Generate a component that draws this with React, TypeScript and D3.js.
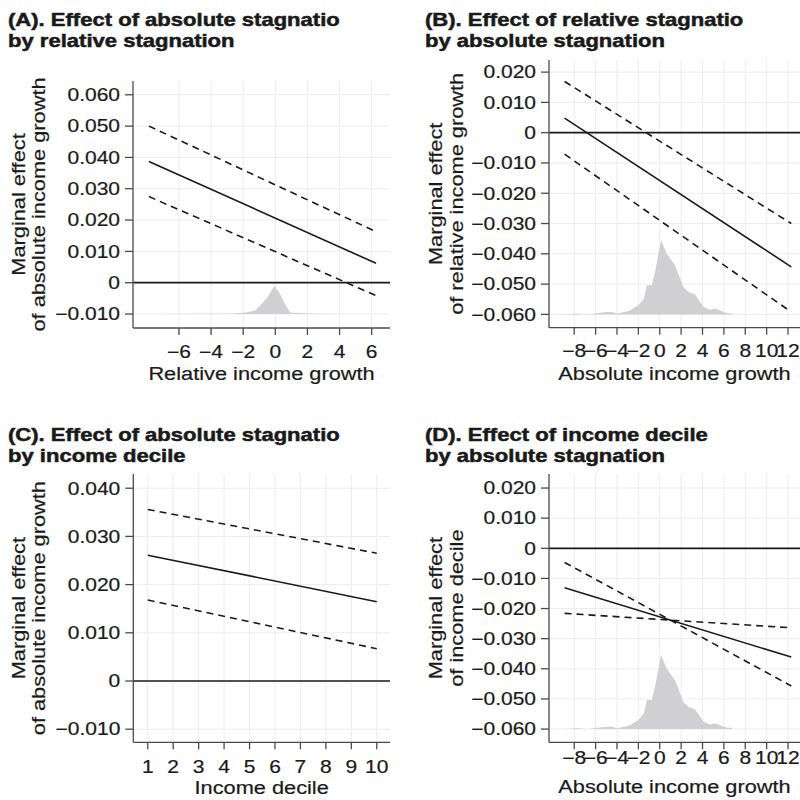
import { useRef, useEffect } from 'react';
import * as d3 from 'd3';

const FONT = "'Liberation Sans', Arial, Helvetica, sans-serif";
const W = 800;
const H = 800;

// (A) effect of absolute stagnation by relative income growth
const aX = [-7.87, 6.27];
const aFit = [0.0387, 0.0062];
const aUpper = [0.05, 0.0163];
const aLower = [0.0275, -0.0041];
const aHistX = [-7.9, -5, -2.83, -1.8, -1.27, -0.85, -0.5, -0.06, 0.3, 0.6, 0.92, 1.96, 2.8, 4.5];
const aHistH = [0, 0.00005, 0.0001, 0.0005, 0.0011, 0.0032, 0.0053, 0.009, 0.0064, 0.0032, 0.0005, 0.0002, 0.0001, 0];
const aXTicks = [-6, -4, -2, 0, 2, 4, 6];
const aYTicks = [-0.01, 0, 0.01, 0.02, 0.03, 0.04, 0.05, 0.06];

// (B) effect of relative stagnation by absolute income growth
const bX = [-8.9, 12.3];
const bFit = [0.0048, -0.0443];
const bUpper = [0.0169, -0.03];
const bLower = [-0.0071, -0.0592];

// absolute income growth distribution (B and D)
const absHistX = [-9, -7.8, -6.8, -5, -4.5, -4, -2.9, -2, -1.5, -1.2, -0.75, -0.44, 0.12, 0.65, 1.43, 2.2, 2.7, 3.3, 4.1, 4.7, 5.2, 6, 6.3, 6.7, 6.8];
const absHistH = [0, 0.0003, 0, 0.0008, 0.0008, 0.0003, 0.0011, 0.003, 0.0052, 0.0096, 0.0096, 0.014, 0.0245, 0.02, 0.0162, 0.009, 0.0074, 0.0066, 0.0024, 0.0015, 0.0019, 0.0008, 0.0004, 0.0004, 0];
const absXTicks = [-8, -6, -4, -2, 0, 2, 4, 6, 8, 10, 12];
const negYTicks = [-0.06, -0.05, -0.04, -0.03, -0.02, -0.01, 0, 0.01, 0.02];

// (C) effect of absolute stagnation by income decile
const cX = [1, 10];
const cFit = [0.0261, 0.01645];
const cUpper = [0.0356, 0.0265];
const cLower = [0.0168, 0.0067];
const cXTicks = [1, 2, 3, 4, 5, 6, 7, 8, 9, 10];
const cYTicks = [-0.01, 0, 0.01, 0.02, 0.03, 0.04];

// (D) effect of income decile by absolute stagnation
const dX = [-8.9, 12.3];
const dFit = [-0.0131, -0.0361];
const dBand1 = [-0.0047, -0.0457];
const dBand2 = [-0.0216, -0.0264];

type Panel = {
  title: [string, string];
  yTitle: [string, string];
  xTitle: string;
  xs: number[];
  fit: number[];
  bands: number[][];
  histX?: number[];
  histH?: number[];
  xTicks: number[];
  yTicks: number[];
  xDomain: [number, number];
  yDomain: [number, number];
  box: { left: number; right: number; top: number; bottom: number };
  titleX: number;
  titleY: number;
  yTitleX: [number, number];
  tickY: number;
  xTitleY: number;
};

const panels: Panel[] = [
  {
    title: ['(A). Effect of absolute stagnatio', 'by relative stagnation'],
    yTitle: ['Marginal effect', 'of absolute income growth'],
    xTitle: 'Relative income growth',
    xs: aX,
    fit: aFit,
    bands: [aUpper, aLower],
    histX: aHistX,
    histH: aHistH,
    xTicks: aXTicks,
    yTicks: aYTicks,
    xDomain: [-8.86, 7.14],
    yDomain: [-0.01446, 0.0644],
    box: { left: 133, right: 390, top: 81, bottom: 328 },
    titleX: 8,
    titleY: 26,
    yTitleX: [25, 45],
    tickY: 358,
    xTitleY: 380,
  },
  {
    title: ['(B). Effect of relative stagnatio', 'by absolute stagnation'],
    yTitle: ['Marginal effect', 'of relative income growth'],
    xTitle: 'Absolute income growth',
    xs: bX,
    fit: bFit,
    bands: [bUpper, bLower],
    histX: absHistX,
    histH: absHistH,
    xTicks: absXTicks,
    yTicks: negYTicks,
    xDomain: [-10.36, 13.12],
    yDomain: [-0.0644, 0.024],
    box: { left: 549, right: 800, top: 60, bottom: 327.7 },
    titleX: 425,
    titleY: 26,
    yTitleX: [441.5, 463],
    tickY: 357,
    xTitleY: 380,
  },
  {
    title: ['(C). Effect of absolute stagnatio', 'by income decile'],
    yTitle: ['Marginal effect', 'of absolute income growth'],
    xTitle: 'Income decile',
    xs: cX,
    fit: cFit,
    bands: [cUpper, cLower],
    xTicks: cXTicks,
    yTicks: cYTicks,
    xDomain: [0.432, 10.52],
    yDomain: [-0.01272, 0.04295],
    box: { left: 133.3, right: 390, top: 474, bottom: 742.3 },
    titleX: 8,
    titleY: 441,
    yTitleX: [25, 45],
    tickY: 772.5,
    xTitleY: 794,
  },
  {
    title: ['(D). Effect of income decile', 'by absolute stagnation'],
    yTitle: ['Marginal effect', 'of income decile'],
    xTitle: 'Absolute income growth',
    xs: dX,
    fit: dFit,
    bands: [dBand1, dBand2],
    histX: absHistX,
    histH: absHistH,
    xTicks: absXTicks,
    yTicks: negYTicks,
    xDomain: [-10.36, 13.12],
    yDomain: [-0.0644, 0.02466],
    box: { left: 549, right: 800, top: 474, bottom: 742.3 },
    titleX: 425,
    titleY: 441,
    yTitleX: [441.5, 463],
    tickY: 763.5,
    xTitleY: 793,
  },
];

type Sel = d3.Selection<SVGGElement, unknown, null, undefined>;

function stretchText(
  parent: Sel,
  x: number,
  y: number,
  str: string,
  opts: { size: number; sx: number; anchor?: string; weight?: number; rotate?: boolean; halo?: number },
) {
  parent
    .append('text')
    .attr('transform', `translate(${x},${y})${opts.rotate ? ' rotate(-90)' : ''} scale(${opts.sx},1)`)
    .attr('text-anchor', opts.anchor ?? 'start')
    .attr('font-family', FONT)
    .attr('font-size', opts.size)
    .attr('font-weight', opts.weight ?? 400)
    .attr('fill', '#1a1a1a')
    .attr('stroke', '#1a1a1a')
    .attr('stroke-width', opts.halo ?? 0.2)
    .text(str);
}

const fmtY = (v: number) => (Math.abs(v) < 1e-9 ? '0' : d3.format('.3f')(v));
const fmtX = (v: number) => d3.format('d')(v);

function drawPanel(g: Sel, p: Panel) {
  const { box } = p;
  const x = d3.scaleLinear().domain(p.xDomain).range([box.left, box.right]);
  const y = d3.scaleLinear().domain(p.yDomain).range([box.bottom, box.top]);

  // grid
  p.xTicks.forEach((t) => {
    g.append('line')
      .attr('x1', x(t))
      .attr('x2', x(t))
      .attr('y1', box.top)
      .attr('y2', box.bottom)
      .attr('stroke', '#ececec')
      .attr('stroke-width', 1);
  });
  p.yTicks.forEach((t) => {
    g.append('line')
      .attr('x1', box.left)
      .attr('x2', box.right)
      .attr('y1', y(t))
      .attr('y2', y(t))
      .attr('stroke', '#ececec')
      .attr('stroke-width', 1);
  });

  // distribution of the moderator
  if (p.histX && p.histH) {
    const base = p.yTicks[0];
    const pts = p.histX.map((v, i) => [v, p.histH![i]] as [number, number]);
    const area = d3
      .area<[number, number]>()
      .x((d) => x(d[0]))
      .y0(y(base))
      .y1((d) => y(base + d[1]));
    g.append('path').attr('d', area(pts)).attr('fill', '#d0d0d2');
  }

  // zero line
  g.append('line')
    .attr('x1', box.left)
    .attr('x2', box.right)
    .attr('y1', y(0))
    .attr('y2', y(0))
    .attr('stroke', '#1a1a1a')
    .attr('stroke-width', 1.7);

  const line = d3
    .line<[number, number]>()
    .x((d) => x(d[0]))
    .y((d) => y(d[1]));

  p.bands.forEach((band) => {
    g.append('path')
      .attr('d', line(p.xs.map((v, i) => [v, band[i]] as [number, number])))
      .attr('fill', 'none')
      .attr('stroke', '#1a1a1a')
      .attr('stroke-width', 1.6)
      .attr('stroke-dasharray', '7,5');
  });
  g.append('path')
    .attr('d', line(p.xs.map((v, i) => [v, p.fit[i]] as [number, number])))
    .attr('fill', 'none')
    .attr('stroke', '#1a1a1a')
    .attr('stroke-width', 1.6);

  // axes
  g.append('line')
    .attr('x1', box.left)
    .attr('x2', box.left)
    .attr('y1', box.top)
    .attr('y2', box.bottom)
    .attr('stroke', '#4a4a4a')
    .attr('stroke-width', 1.3);
  g.append('line')
    .attr('x1', box.left)
    .attr('x2', box.right)
    .attr('y1', box.bottom)
    .attr('y2', box.bottom)
    .attr('stroke', '#4a4a4a')
    .attr('stroke-width', 1.3);

  p.yTicks.forEach((t) => {
    g.append('line')
      .attr('x1', box.left - 8)
      .attr('x2', box.left)
      .attr('y1', y(t))
      .attr('y2', y(t))
      .attr('stroke', '#4a4a4a')
      .attr('stroke-width', 1.3);
    stretchText(g, box.left - 13, y(t) + 6.3, fmtY(t), { size: 17.5, sx: 1.2, anchor: 'end' });
  });
  p.xTicks.forEach((t) => {
    g.append('line')
      .attr('x1', x(t))
      .attr('x2', x(t))
      .attr('y1', box.bottom)
      .attr('y2', box.bottom + 7)
      .attr('stroke', '#4a4a4a')
      .attr('stroke-width', 1.3);
    stretchText(g, x(t), p.tickY, fmtX(t), { size: 17.5, sx: 1.2, anchor: 'middle' });
  });

  // axis titles
  const cx = (box.left + box.right) / 2;
  const cy = (box.top + box.bottom) / 2;
  stretchText(g, cx, p.xTitleY, p.xTitle, { size: 18, sx: 1.21, anchor: 'middle' });
  stretchText(g, p.yTitleX[0], cy, p.yTitle[0], { size: 18, sx: 1.21, anchor: 'middle', rotate: true });
  stretchText(g, p.yTitleX[1], cy, p.yTitle[1], { size: 18, sx: 1.21, anchor: 'middle', rotate: true });

  // panel title
  stretchText(g, p.titleX, p.titleY, p.title[0], { size: 17.5, sx: 1.26, weight: 700, halo: 0.5 });
  stretchText(g, p.titleX, p.titleY + 21, p.title[1], { size: 17.5, sx: 1.26, weight: 700, halo: 0.5 });
}

export default function App() {
  const svgRef = useRef<SVGSVGElement>(null);

  useEffect(() => {
    const svg = d3.select(svgRef.current);
    svg.selectAll('*').remove();

    svg.append('rect').attr('width', W).attr('height', H).attr('fill', '#ffffff');

    panels.forEach((p) => {
      const g = svg.append('g') as unknown as Sel;
      drawPanel(g, p);
    });
  }, []);

  return (
    <svg
      ref={svgRef}
      width={W}
      height={H}
      style={{ position: 'absolute', left: 0, top: 0, display: 'block' }}
    />
  );
}
